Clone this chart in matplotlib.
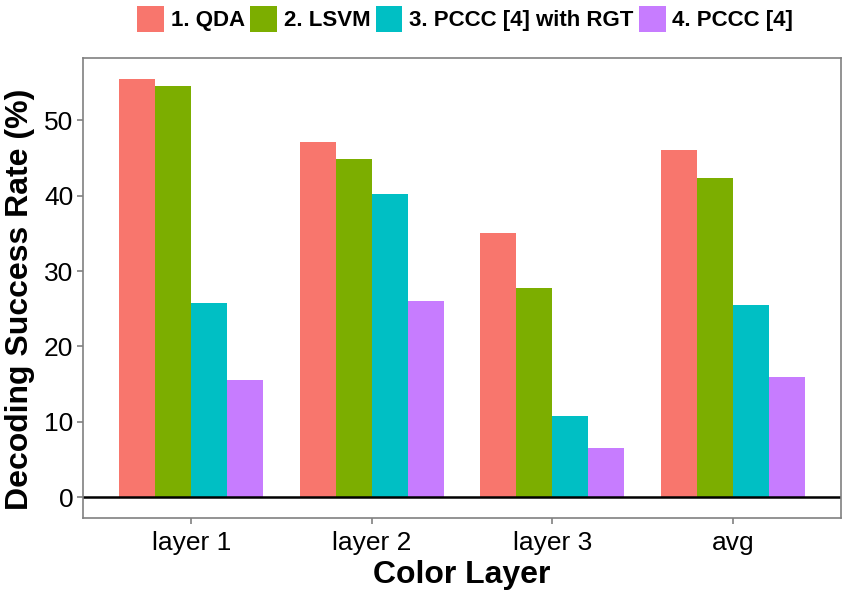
import numpy as np
import matplotlib
matplotlib.use("Agg")
from matplotlib import pyplot as plt
from matplotlib.patches import Patch

plt.rcParams['font.family'] = ['Liberation Sans', 'DejaVu Sans']

# data
layers = ['layer 1', 'layer 2', 'layer 3', 'avg']
methods = ['1. QDA', '2. LSVM', '3. PCCC [4] with RGT', '4. PCCC [4]']
qda = [55.5, 47.1, 35.1, 46.0]
lsvm = [54.6, 44.9, 27.7, 42.4]
pccc_rgt = [25.8, 40.2, 10.7, 25.5]
pccc = [15.5, 26.0, 6.5, 16.0]
colors = ['#F8766D', '#7CAE00', '#00BFC4', '#C77CFF']

series = [qda, lsvm, pccc_rgt, pccc]

fig = plt.figure(figsize=(8.46, 5.90), dpi=100)
ax = fig.add_axes([0.0981, 0.122, 0.896, 0.780])

x = np.arange(len(layers))
w = 0.2
for i, vals in enumerate(series):
    ax.bar(x + (i - 1.5) * w, vals, width=w, color=colors[i], edgecolor='none')

ax.axhline(0, color='black', lw=1.8)

ax.set_xlim(-0.6, 3.6)
ax.set_ylim(-2.78, 58.3)
ax.set_yticks([0, 10, 20, 30, 40, 50])
ax.set_xticks(x)
ax.set_xticklabels(layers)

for s in ax.spines.values():
    s.set_color('#808080')
    s.set_linewidth(1.2)
ax.tick_params(axis='both', colors='#808080', labelcolor='black', length=4, width=1.2, labelsize=19)
ax.tick_params(axis='x', pad=5)
ax.tick_params(axis='y', pad=3)

ax.set_xlabel('Color Layer', fontsize=23, fontweight='bold', labelpad=4)
ax.set_ylabel('Decoding Success Rate (%)', fontsize=23, fontweight='bold')
ax.yaxis.set_label_coords(-0.063, 0.476)

handles = [Patch(facecolor=c, edgecolor='none') for c in colors]
fig.legend(handles, methods, loc='center', bbox_to_anchor=(0.55, 0.968), ncol=4,
           frameon=False, prop={'weight': 'bold', 'size': 16},
           handlelength=1.2, handleheight=1.4, handletextpad=0.3, columnspacing=0.25)

plt.savefig('out.png', dpi=100)
